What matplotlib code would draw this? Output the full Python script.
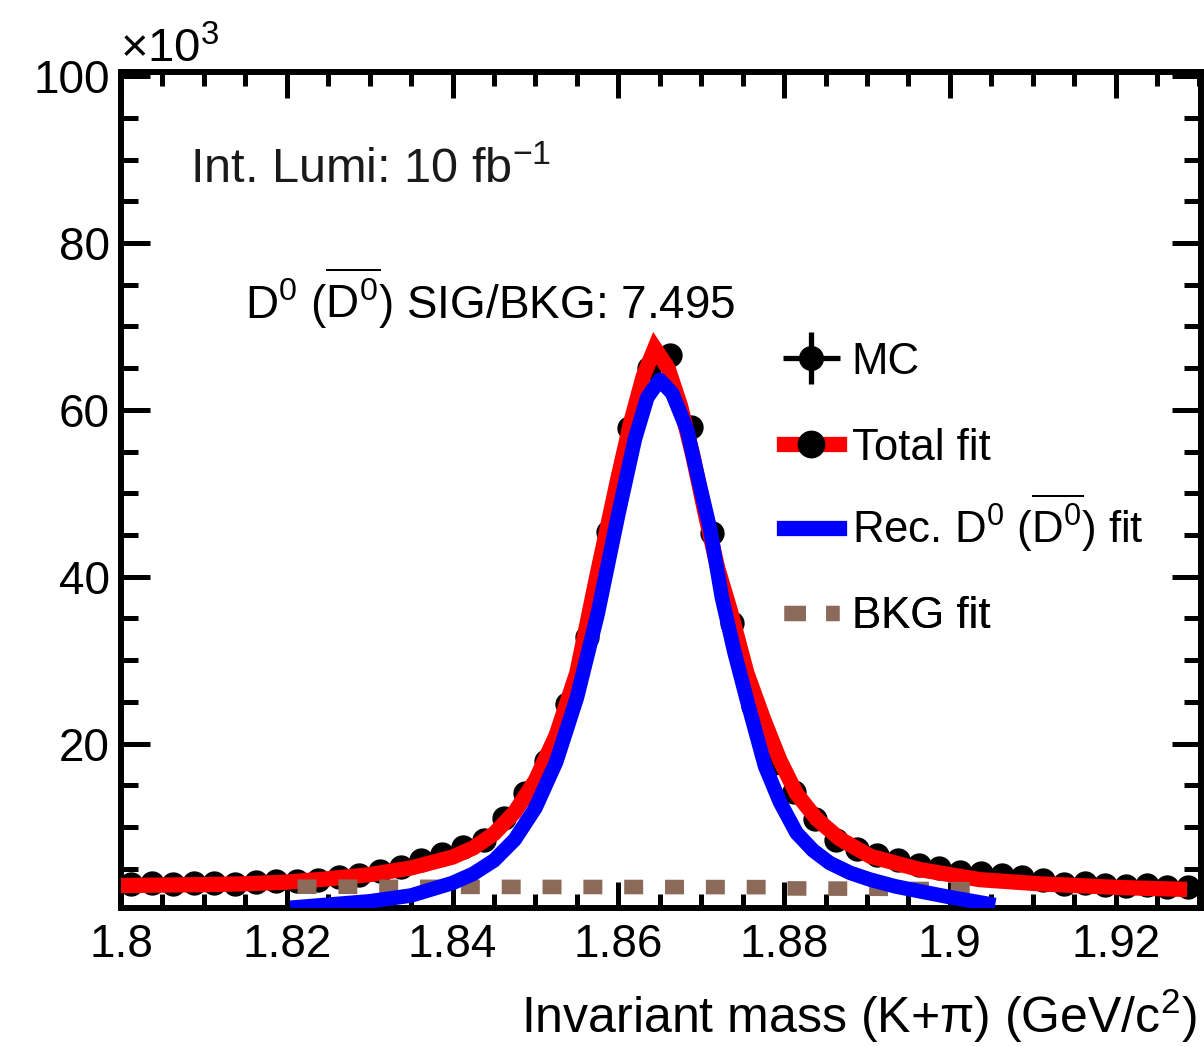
import numpy as np
import matplotlib
matplotlib.use("Agg")
import matplotlib.pyplot as plt
from matplotlib.lines import Line2D
from matplotlib.legend_handler import HandlerErrorbar
from matplotlib.ticker import MultipleLocator, FuncFormatter

plt.rcParams['font.family'] = ['Liberation Sans', 'DejaVu Sans']
plt.rcParams['mathtext.fontset'] = 'custom'
plt.rcParams['mathtext.rm'] = 'Liberation Sans'
plt.rcParams['mathtext.it'] = 'Liberation Sans:italic'

# MC histogram, bin width 0.0025 GeV/c^2, counts in units of 10^3
bin_lo = 1.8
bin_w = 0.0025
mc_counts = [3.2, 3.3, 3.2, 3.3, 3.3, 3.2, 3.4, 3.5, 3.5, 3.7,
             4.0, 4.3, 4.7, 5.2, 6.0, 6.8, 7.6, 8.5, 11.1, 14.1,
             17.9, 24.7, 32.8, 45.4, 57.8, 65.0, 66.6, 58.0, 45.3, 34.5,
             24.5, 17.7, 14.2, 11.0, 8.5, 7.4, 6.6, 6.1, 5.5, 5.1,
             4.6, 4.5, 4.2, 4.0, 3.6, 3.2, 3.3, 3.0, 2.9, 3.1,
             2.8, 2.8]

# total fit (red)
tot_x = [1.8008, 1.8100, 1.8150, 1.8200, 1.8250, 1.8300, 1.8350, 1.8400,
         1.8425, 1.8450, 1.8475, 1.8500, 1.8525, 1.8550, 1.8575, 1.8600,
         1.8615, 1.8630, 1.8644, 1.8660, 1.8675, 1.8690, 1.8705, 1.8720,
         1.8735, 1.8755, 1.8775, 1.8795, 1.8815, 1.8839, 1.8867, 1.8904,
         1.8964, 1.9036, 1.9108, 1.9205, 1.9277]
tot_y = [3.0, 3.1, 3.2, 3.4, 3.8, 4.3, 5.1, 6.4,
         7.5, 9.2, 11.8, 15.6, 21.0, 28.5, 40.5, 52.0,
         58.5, 64.0, 67.4, 65.0, 60.5, 54.5, 47.5, 41.0,
         36.0, 28.5, 23.0, 18.0, 14.0, 11.0, 8.6, 6.5,
         4.9, 3.7, 3.2, 2.75, 2.55]

# signal fit (blue)
sig_x = [1.8213, 1.8250, 1.8300, 1.8350, 1.8400, 1.8425, 1.8450, 1.8475,
         1.8500, 1.8525, 1.8550, 1.8575, 1.8600, 1.8620, 1.8635, 1.8650,
         1.8665, 1.8683, 1.8697, 1.8711, 1.8725, 1.8740, 1.8755, 1.8777,
         1.8795, 1.8815, 1.8835, 1.8855, 1.8880, 1.8904, 1.8934, 1.8964,
         1.9000, 1.9046]
sig_y = [0.4, 0.7, 1.1, 1.8, 3.3, 4.4, 6.0, 8.5,
         12.3, 17.8, 25.5, 35.5, 47.5, 56.5, 61.5, 63.6,
         62.0, 57.6, 51.5, 45.6, 37.5, 31.0, 25.3, 17.3,
         13.0, 9.3, 7.2, 5.7, 4.5, 3.7, 2.9, 2.3,
         1.6, 0.8]

# background fit (brown, dashed)
bkg_x = [1.8213, 1.8790, 1.8800, 1.9046]
bkg_y = [2.85, 2.8, 2.65, 2.55]

mc_x = bin_lo + bin_w * (np.arange(len(mc_counts)) + 0.5)
mc_y = np.array(mc_counts)
mc_err = np.sqrt(mc_y * 1e3) / 1e3

fig = plt.figure(figsize=(12.04, 10.47), dpi=100)
ax = fig.add_axes([121 / 1204, 1 - 908 / 1047, 1080 / 1204, 836 / 1047])

ax.errorbar(mc_x, mc_y, xerr=bin_w / 2, yerr=mc_err, fmt='o', color='black',
            ms=16.5, elinewidth=3.6, capsize=0, zorder=2)
ax.plot(tot_x, tot_y, color='#ff0000', lw=11, solid_joinstyle='miter', zorder=3)
ax.plot(bkg_x, bkg_y, color='#8b6a5a', lw=10.5, dashes=(1.3, 1.5),
        dash_capstyle='butt', zorder=4)
ax.plot(sig_x, sig_y, color='#0000ff', lw=10.5, zorder=5)

ax.set_xlim(1.8, 1.9303)
ax.set_ylim(0.3, 100.5)

ax.xaxis.set_major_locator(MultipleLocator(0.02))
ax.xaxis.set_minor_locator(MultipleLocator(0.005))
ax.yaxis.set_major_locator(MultipleLocator(20))
ax.yaxis.set_minor_locator(MultipleLocator(5))
ax.xaxis.set_major_formatter(FuncFormatter(lambda v, p: '%g' % round(v, 3)))
ax.yaxis.set_major_formatter(FuncFormatter(lambda v, p: '' if v < 1 else '%d' % v))

ax.tick_params(axis='both', which='both', direction='in', top=True, right=True,
               width=3.6, labelsize=33)
ax.tick_params(axis='x', which='major', length=19, pad=11)
ax.tick_params(axis='x', which='minor', length=10)
ax.tick_params(axis='y', which='major', length=21, pad=8)
ax.tick_params(axis='y', which='minor', length=12)
for s in ax.spines.values():
    s.set_linewidth(4.3)

fig.text(120 / 1204, 1 - 50 / 1047, r'$\times$10$^{3}$', fontsize=34,
         ha='left', va='center')
fig.text(1197 / 1204, 1 - 1016 / 1047, r'Invariant mass (K+π) (GeV/c$^{2}$)',
         fontsize=36, ha='right', va='center')

ax.text((190 - 121) / 1080, 1 - (170 - 72) / 836,
        r'Int. Lumi: 10 fb$^{\mathregular{-1}}$', transform=ax.transAxes,
        fontsize=35, color='#1a1a1a', ha='left', va='center')
ax.text((245 - 121) / 1080, 1 - (298 - 72) / 836,
        r'D$^{0}$ ($\overline{\mathrm{D}^{0}}$) SIG/BKG: 7.495',
        transform=ax.transAxes, fontsize=33, ha='left', va='center')

# legend: one entry per box so that the rows keep an even pitch
mc_handle = ax.errorbar([], [], xerr=[], yerr=[], fmt='o', color='black', ms=17,
                        elinewidth=3.8, capsize=0)
entries = [
    (mc_handle, 'MC', 362),
    (Line2D([], [], color='#ff0000', lw=11, marker='o', ms=19,
            mfc='black', mec='black'), 'Total fit', 448),
    (Line2D([], [], color='#0000ff', lw=11),
     r'Rec. D$^{0}$ ($\overline{\mathrm{D}^{0}}$) fit', 523),
    (Line2D([], [], color='#8b6a5a', lw=11, dashes=(1.4, 1.33),
            dash_capstyle='butt'), 'BKG fit', 617),
]
for h, lab, ypx in entries:
    leg = ax.legend([h], [lab], loc='center left',
                    bbox_to_anchor=((784 - 121) / 1080, 1 - (ypx - 72) / 836),
                    frameon=False, fontsize=31.5, handlelength=1.25,
                    handletextpad=0.3, borderpad=0, borderaxespad=0,
                    handler_map={type(mc_handle): HandlerErrorbar(xerr_size=0.65, yerr_size=0.6)})
    ax.add_artist(leg)

fig.savefig('out.png', dpi=100)
